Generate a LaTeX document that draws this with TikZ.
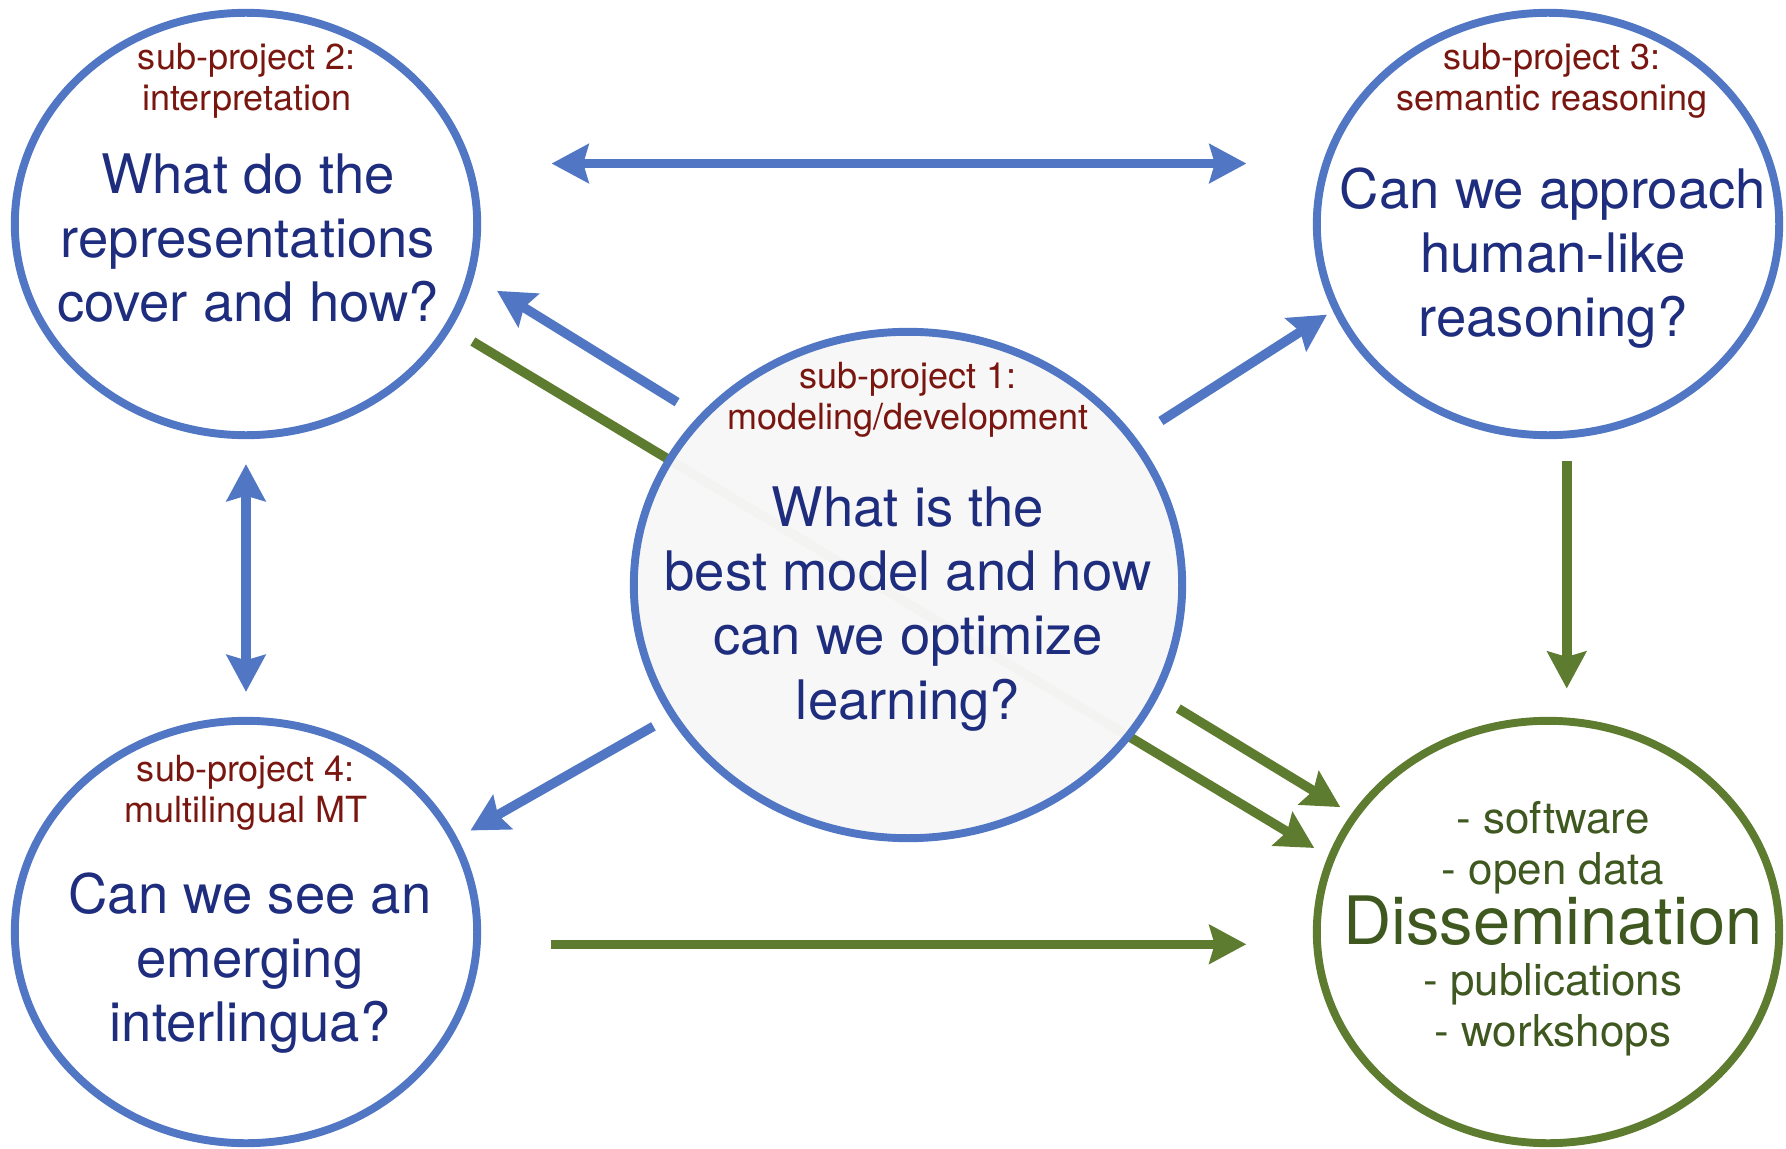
\documentclass[tikz,border=0pt]{standalone}
\usepackage{fontspec}
\setmainfont{TeX Gyre Heros}
\usepackage{xcolor}
\usetikzlibrary{positioning,shapes.geometric,arrows.meta}

\definecolor{projblue}{RGB}{80,118,196}
\definecolor{projgreen}{RGB}{94,124,48}
\definecolor{qnavy}{RGB}{30,45,125}
\definecolor{labelred}{RGB}{122,22,16}
\definecolor{dissgreen}{RGB}{62,88,32}

\tikzset{
    proj/.style={ellipse, draw=projblue, line width=4.5pt, fill=white,
        minimum width=9.25cm, minimum height=8.45cm, inner sep=0pt},
    splabel/.style={text=labelred, align=center, inner sep=0pt,
        font=\fontsize{20.5}{23.3}\selectfont},
    question/.style={text=qnavy, align=center, inner sep=0pt,
        font=\fontsize{31}{36.5}\selectfont},
    disstext/.style={text=dissgreen, align=center, inner sep=0pt,
        font=\fontsize{25}{29}\selectfont},
    bluelink/.style={draw=projblue, line width=5.4pt},
    greenlink/.style={draw=projgreen, line width=5.4pt}
}

\begin{document}
\begin{tikzpicture}[x=0.02cm, y=-0.02cm, >={Stealth[length=21pt, width=22pt, inset=3pt]}]
    \useasboundingbox (0,0) rectangle (1786,1149);

    % Circles
    \node[proj] (sp2) at (246,224) {};
    \node[proj] (sp3) at (1548,224) {};
    \node[proj] (sp4) at (246,932) {};
    \node[proj, draw=projgreen] (diss) at (1548,932) {};

    % this one runs behind the middle circle
    \draw[greenlink, ->, shorten <=14.2pt, shorten >=9.1pt] (sp2.-27) -- (diss.161);

    \node[proj, minimum width=10.97cm, minimum height=10.13cm,
        fill=black!3, fill opacity=0.975] (sp1) at (908,585) {};

    % Texts
    \node[splabel] (sp1-label) at (908,400) {sub-project 1:\\modeling/development};
    \node[question] (sp1-q) at (908,609) {What is the\\best model and how\\can we optimize\\learning?};

    \node[splabel] (sp2-label) at (247,81) {sub-project 2:\\interpretation};
    \node[question] (sp2-q) at (248,238) {What do the\\representations\\cover and how?};

    \node[splabel] (sp3-label) at (1552,81) {sub-project 3:\\semantic reasoning};
    \node[question] (sp3-q) at (1553,258) {Can we approach\\human-like\\reasoning?};

    \node[splabel] (sp4-label) at (246,793) {sub-project 4:\\multilingual MT};
    \node[question] (sp4-q) at (250,963) {Can we see an\\emerging\\interlingua?};

    \node[disstext] (diss-text) at (1553,929) {- software\\- open data\\{\fontsize{38}{40}\selectfont Dissemination}\\- publications\\- workshops};

    % Arrows
    \draw[bluelink, <->, shorten <=45.5pt, shorten >=43.2pt] (sp2.15) -- (sp3.165);
    \draw[bluelink, <->, shorten <=14.2pt, shorten >=14.2pt] (sp2.-90) -- (sp4.90);
    \draw[bluelink, ->, shorten <=14.5pt, shorten >=15.4pt] (sp1.141) -- (sp2.-13);
    \draw[bluelink, ->, shorten <=17.1pt, shorten >=4pt] (sp1.33) -- (sp3.202);
    \draw[bluelink, ->, shorten <=10.5pt, shorten >=8.5pt] (sp1.209) -- (sp4.24);
    \draw[greenlink, ->, shorten <=13.1pt, shorten >=7.4pt] (sp1.-24) -- (diss.149);
    \draw[greenlink, ->, shorten <=13.1pt, shorten >=16.5pt] (sp3.-85) -- (diss.85);
    \draw[greenlink, ->, shorten <=39.8pt, shorten >=38.1pt] (sp4.-3) -- (diss.183);

\end{tikzpicture}
\end{document}
